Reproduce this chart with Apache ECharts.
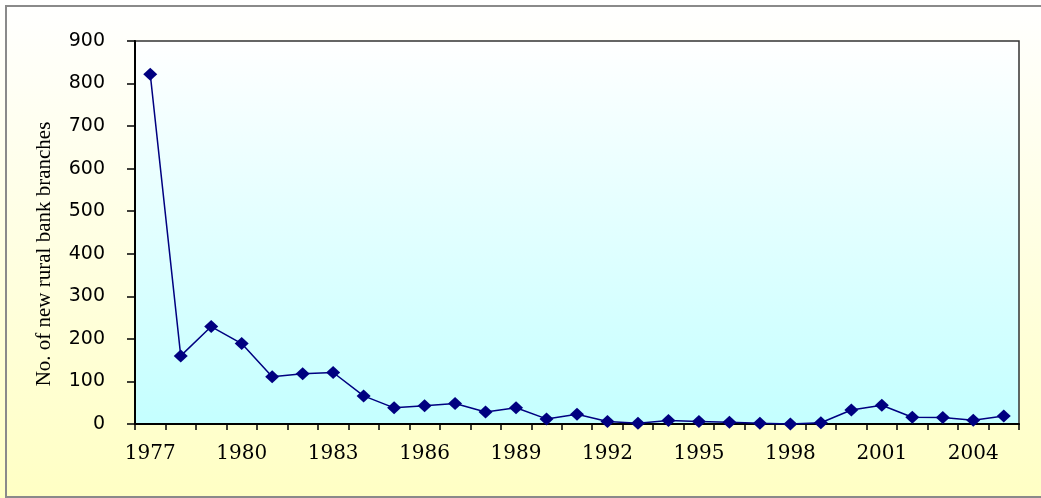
<!DOCTYPE html>
<html>
<head>
<meta charset="utf-8">
<script src="https://cdn.jsdelivr.net/npm/echarts@6/dist/echarts.min.js"></script>
<style>html,body{margin:0;padding:0;background:#fff}#c{width:1041px;height:498px}</style>
</head>
<body>
<div id="c"></div>
<script>
const years = ['1977','1978','1979','1980','1981','1982','1983','1984','1985','1986','1987','1988','1989','1990','1991','1992','1993','1994','1995','1996','1997','1998','1999','2000','2001','2002','2003','2004','2005'];
const branches = [822,160,229,189,111,118,121,66,38,43,48,28,38,12,23,6,2,8,6,4,1.5,0,3,33,44,16,15,9,19];
const yTicks = [0,100,200,300,400,500,600,700,800,900];
const yTitle = 'No. of new rural bank branches';

const chart = echarts.init(document.getElementById('c'));
chart.setOption({
  animation: false,
  backgroundColor: new echarts.graphic.LinearGradient(0,0,0,1,[{offset:0,color:'#ffffff'},{offset:1,color:'#ffffc4'}]),
  graphic: [
    {type:'rect', shape:{x:6,y:6,width:1060,height:491}, style:{fill:'none', stroke:'#8a8a8a', lineWidth:2}, z:-1},
    {type:'text', x:44, y:254, rotation:Math.PI/2, style:{text:yTitle, font:'21px "Liberation Serif"', fill:'#000', align:'center', verticalAlign:'middle'}}
  ],
  grid: {left:135, right:22, top:41, bottom:74, show:true,
    backgroundColor: new echarts.graphic.LinearGradient(0,0,0,1,[{offset:0,color:'#ffffff'},{offset:1,color:'#c4ffff'}]),
    borderColor:'#333', borderWidth:1.5},
  xAxis: {
    type:'category', data: years, boundaryGap:true,
    axisLine:{lineStyle:{color:'#000', width:2}},
    axisTick:{show:true, interval:0, length:6, lineStyle:{color:'#000', width:1.5}},
    axisLabel:{interval:2, margin:20, color:'#000', fontFamily:'DejaVu Serif', fontSize:20},
    splitLine:{show:false}
  },
  yAxis: {
    type:'value', min:0, max:900, interval:100,
    axisLine:{show:true, lineStyle:{color:'#000', width:2}},
    axisTick:{show:true, length:8, lineStyle:{color:'#000', width:1.5}},
    axisLabel:{margin:30, color:'#000', fontFamily:'DejaVu Sans', fontSize:19,
      formatter: v => yTicks.includes(v) ? String(v) : ''},
    splitLine:{show:false}
  },
  series: [{
    type:'line', data: branches,
    symbol:'diamond', symbolSize:[14,13],
    lineStyle:{color:'#000080', width:1.5},
    itemStyle:{color:'#000080'},
    clip:false
  }]
});
</script>
</body>
</html>
